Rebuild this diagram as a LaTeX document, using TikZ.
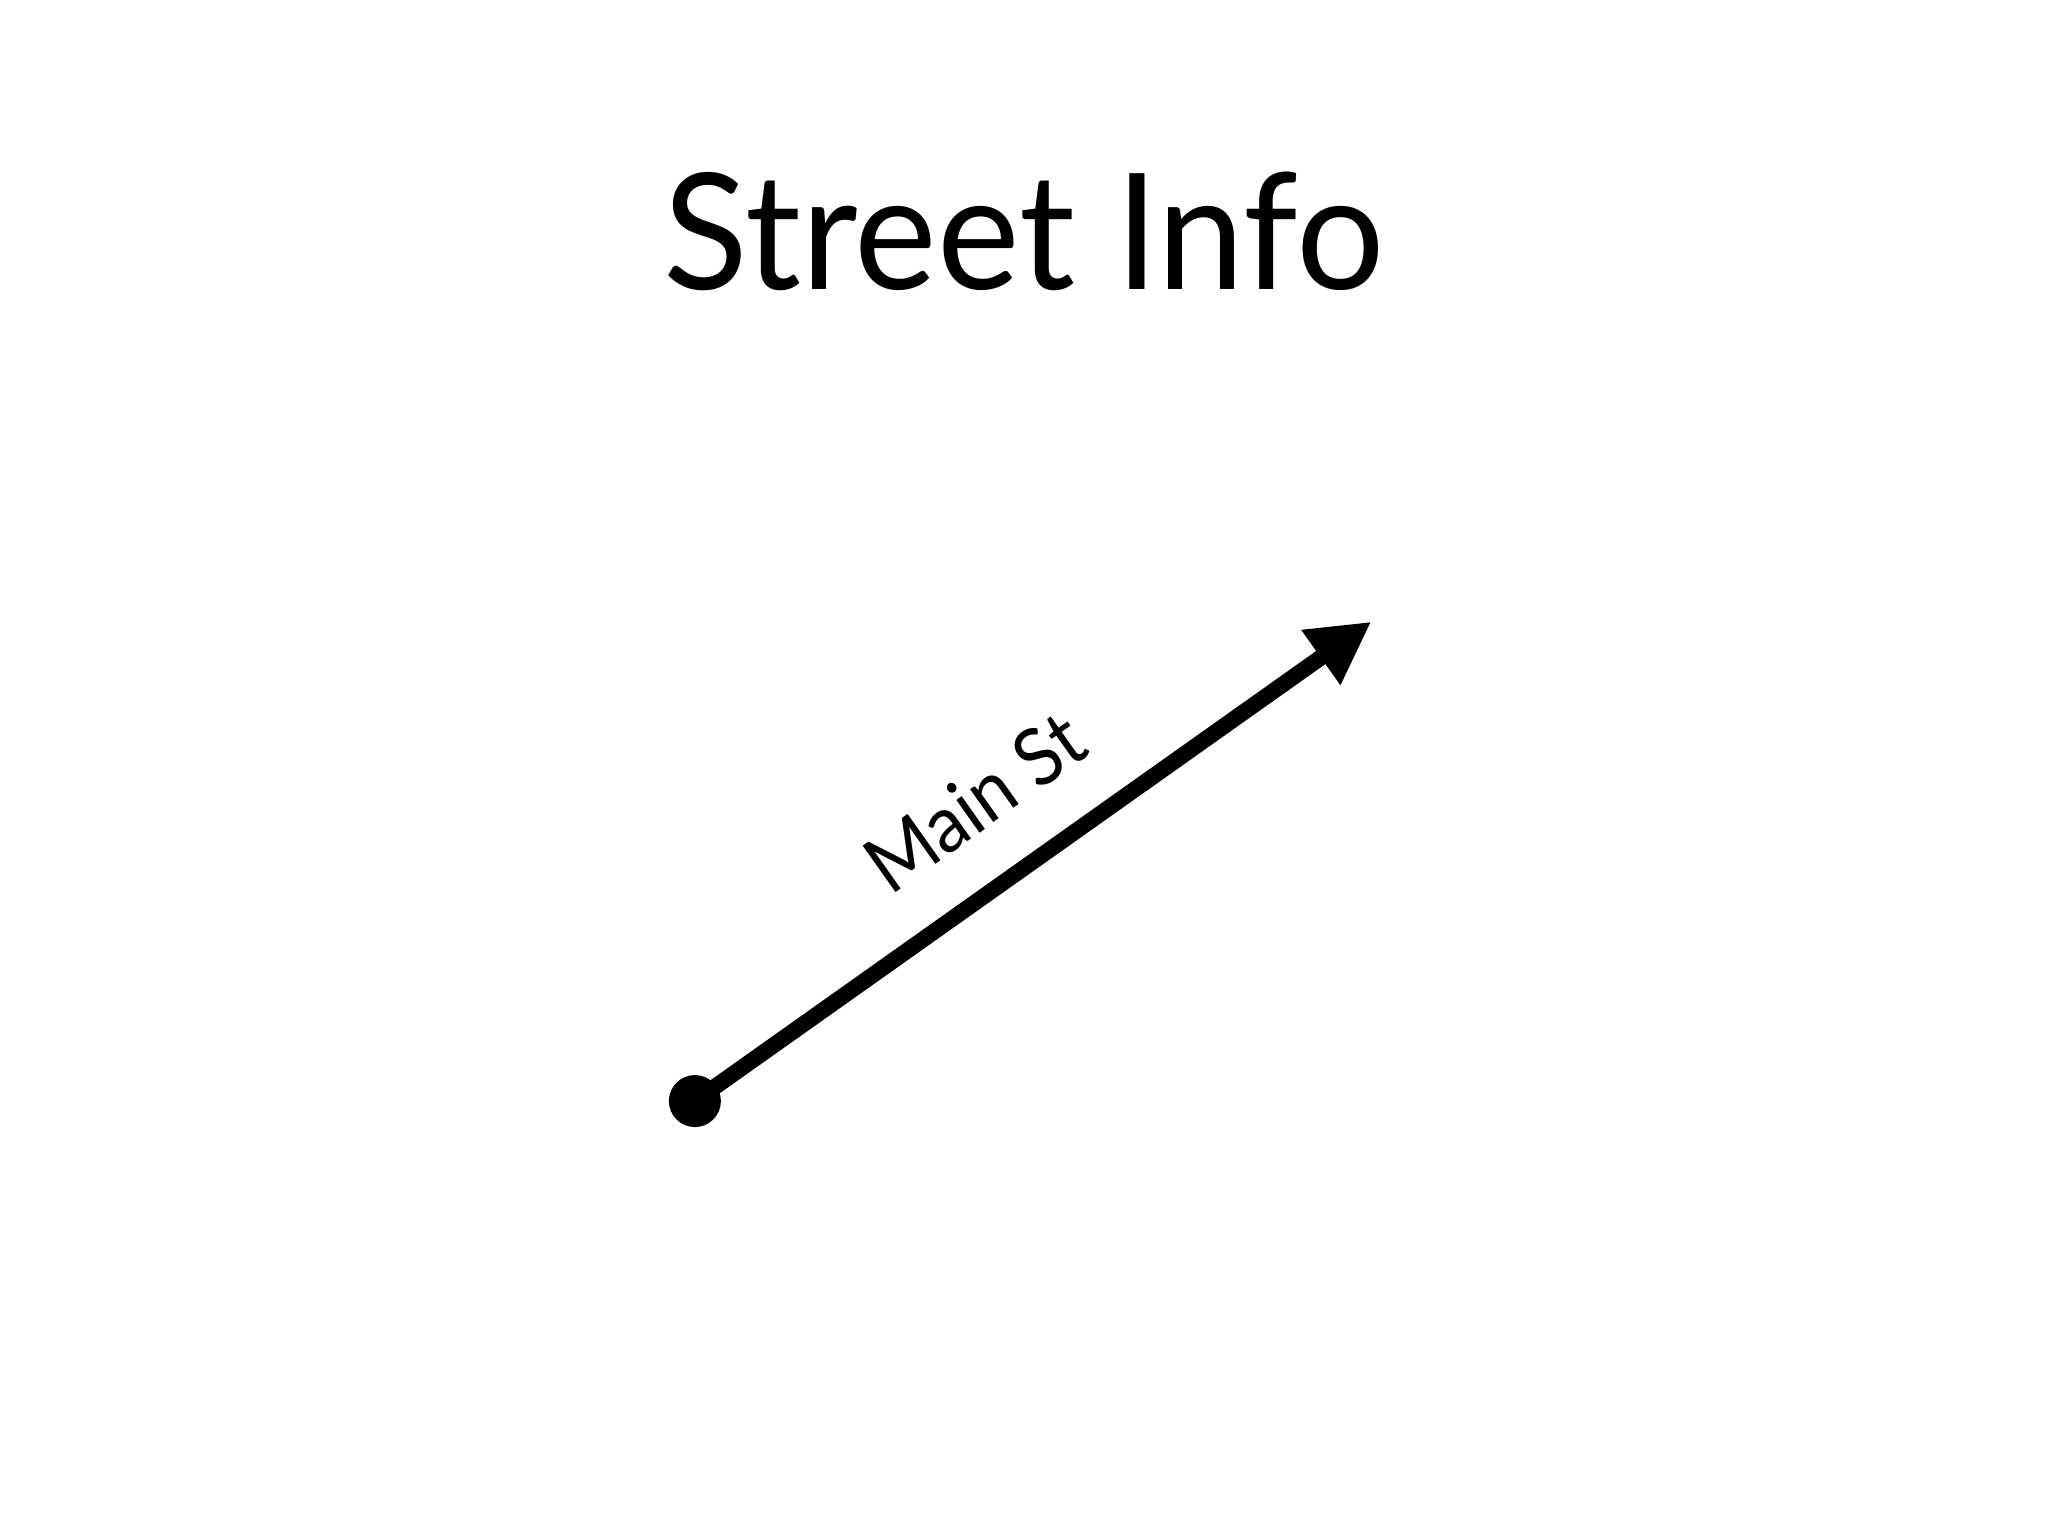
\documentclass[tikz,border=0pt]{standalone}
\usepackage{fontspec}
\setmainfont{Lato}
\usetikzlibrary{arrows.meta}
\tikzset{
  title/.style={font=\fontsize{46}{50}\selectfont, anchor=base, inner sep=0pt},
  streetlabel/.style={font=\fontsize{22.6}{26}\selectfont, anchor=base, inner sep=0pt, rotate=35.3},
  startdot/.style={circle, fill=black, inner sep=0pt, minimum size=0.52cm},
  street/.style={line width=0.16cm, -{Triangle[length=0.62cm, width=0.63cm]}}
}
\begin{document}
\begin{tikzpicture}
\useasboundingbox[fill=white] (0,0) rectangle (20.48,15.36);
\node[title] (ttl) at (10.24,12.46) {\scalebox{0.966}[1]{Street Info}};
\node[startdot] (start) at (6.949,4.349) {};
\coordinate (end) at (13.714,9.143);
\draw[street] (start.center) -- (end);
\node[streetlabel] (lbl) at (9.91,7.11) {\scalebox{0.93}[1]{Main St}};
\end{tikzpicture}
\end{document}
